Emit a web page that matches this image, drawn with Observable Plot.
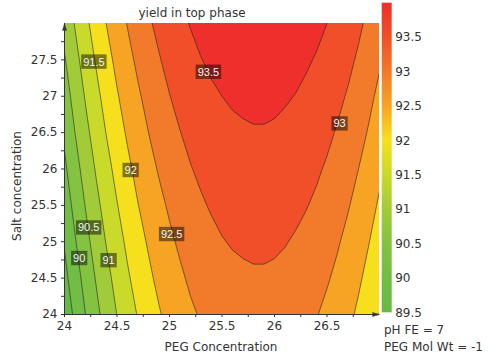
<!DOCTYPE html>
<html>
<head>
<meta charset="utf-8">
<script src="https://cdn.jsdelivr.net/npm/d3@7"></script>
<script src="https://cdn.jsdelivr.net/npm/@observablehq/plot@0.6"></script>
<style>
  html, body { margin: 0; padding: 0; background: #fff; }
  #chart { position: relative; width: 488px; height: 359px; overflow: hidden;
           font-family: "DejaVu Sans", Verdana, sans-serif; color: #333; }
  #chart svg { position: absolute; top: 0; left: 0; }
  .txt { position: absolute; white-space: nowrap; font-size: 12px; line-height: 12px; }
</style>
</head>
<body>
<div id="chart"></div>
<script>
// Sample grid: PEG concentration (columns) and salt concentration (rows)
const pegConcentration = [24.0, 24.1, 24.2, 24.3, 24.4, 24.5, 24.6, 24.7, 24.8, 24.9, 25.0, 25.1, 25.2, 25.3, 25.4, 25.5,
                          25.6, 25.7, 25.8, 25.9, 26.0, 26.1, 26.2, 26.3, 26.4, 26.5, 26.6, 26.7, 26.8, 26.9, 27.0];
const saltConcentration = [24.0, 24.5, 25.0, 25.5, 26.0, 26.5, 27.0, 27.5, 28.0];

// Yield in top phase, one row per salt concentration (bottom row first)
const yieldRows = [
  [89.17, 89.60, 90.00, 90.37, 90.70, 91.01, 91.28, 91.53, 91.76, 91.96, 92.14, 92.30, 92.43, 92.54, 92.64, 92.71, 92.77, 92.80, 92.82, 92.82, 92.80, 92.76, 92.70, 92.62, 92.52, 92.40, 92.27, 92.11, 91.92, 91.72, 91.49],
  [89.36, 89.78, 90.17, 90.53, 90.86, 91.16, 91.44, 91.68, 91.91, 92.11, 92.28, 92.43, 92.57, 92.68, 92.77, 92.84, 92.90, 92.93, 92.95, 92.95, 92.93, 92.89, 92.83, 92.75, 92.66, 92.54, 92.41, 92.25, 92.07, 91.86, 91.64],
  [89.54, 89.96, 90.35, 90.70, 91.03, 91.32, 91.59, 91.84, 92.05, 92.25, 92.42, 92.57, 92.70, 92.81, 92.90, 92.98, 93.03, 93.06, 93.08, 93.08, 93.06, 93.02, 92.96, 92.89, 92.79, 92.68, 92.54, 92.39, 92.21, 92.01, 91.79],
  [89.73, 90.14, 90.52, 90.87, 91.19, 91.48, 91.75, 91.99, 92.20, 92.39, 92.56, 92.71, 92.84, 92.95, 93.04, 93.11, 93.16, 93.19, 93.21, 93.21, 93.19, 93.15, 93.09, 93.02, 92.93, 92.82, 92.68, 92.53, 92.36, 92.16, 91.94],
  [89.91, 90.32, 90.69, 91.04, 91.35, 91.64, 91.90, 92.14, 92.35, 92.54, 92.70, 92.85, 92.98, 93.08, 93.17, 93.24, 93.29, 93.32, 93.34, 93.34, 93.32, 93.28, 93.23, 93.15, 93.06, 92.95, 92.82, 92.67, 92.50, 92.31, 92.09],
  [90.09, 90.50, 90.87, 91.21, 91.52, 91.80, 92.06, 92.29, 92.50, 92.68, 92.85, 92.99, 93.11, 93.22, 93.30, 93.37, 93.42, 93.45, 93.47, 93.47, 93.45, 93.41, 93.36, 93.29, 93.20, 93.09, 92.96, 92.81, 92.65, 92.46, 92.24],
  [90.28, 90.67, 91.04, 91.37, 91.68, 91.96, 92.21, 92.44, 92.64, 92.83, 92.99, 93.13, 93.25, 93.35, 93.44, 93.50, 93.55, 93.58, 93.60, 93.60, 93.58, 93.54, 93.49, 93.42, 93.33, 93.23, 93.10, 92.96, 92.79, 92.60, 92.40],
  [90.46, 90.85, 91.21, 91.54, 91.84, 92.12, 92.37, 92.59, 92.79, 92.97, 93.13, 93.27, 93.39, 93.49, 93.57, 93.63, 93.68, 93.71, 93.73, 93.73, 93.71, 93.67, 93.62, 93.55, 93.47, 93.36, 93.24, 93.10, 92.94, 92.75, 92.55],
  [90.65, 91.03, 91.39, 91.71, 92.01, 92.28, 92.52, 92.74, 92.94, 93.11, 93.27, 93.41, 93.52, 93.62, 93.70, 93.77, 93.81, 93.84, 93.86, 93.86, 93.84, 93.81, 93.75, 93.69, 93.60, 93.50, 93.38, 93.24, 93.08, 92.90, 92.70]
];

// Contour thresholds and the fill of the band that starts at each one
const contourLevels = [89, 89.5, 90, 90.5, 91, 91.5, 92, 92.5, 93, 93.5];
const bandColors = ["#66b947", "#72bd45", "#84c242", "#a2cb3a", "#c9da2b", "#f6e01e", "#f7a425", "#f27a2b", "#f04f2a", "#ee2f2c"];

// Where each labelled contour carries its value
const labelLevels = [90, 90.5, 91, 91.5, 92, 92.5, 93, 93.5];
const labelPeg = [24.14, 24.23, 24.42, 24.28, 24.63, 25.02, 26.62, 25.37];
const labelSalt = [24.77, 25.19, 24.74, 27.47, 25.98, 25.10, 26.62, 27.33];

// Axis ticks
const pegTicks = [24, 24.5, 25, 25.5, 26, 26.5];
const pegMinorTicks = [24.25, 24.75, 25.25, 25.75, 26.25, 26.75];
const saltTicks = [24, 24.5, 25, 25.5, 26, 26.5, 27, 27.5];
const saltMinorTicks = [24.25, 24.75, 25.25, 25.75, 26.25, 26.75, 27.25, 27.75];
const colorbarTicks = [89.5, 90, 90.5, 91, 91.5, 92, 92.5, 93, 93.5];
const colorbarDomain = [89.5, 94];

const font = "DejaVu Sans, Verdana, sans-serif";
const ink = "#333";

const dx = pegConcentration[1] - pegConcentration[0];
const dy = saltConcentration[1] - saltConcentration[0];
const grid = yieldRows.flat();
const labels = labelLevels.map((level, i) => ({level, peg: labelPeg[i], salt: labelSalt[i]}));
const pegAll = [...pegTicks, ...pegMinorTicks].sort((a, b) => a - b);
const saltAll = [...saltTicks, ...saltMinorTicks].sort((a, b) => a - b);

const main = Plot.plot({
  width: 488,
  height: 359,
  marginLeft: 64,
  marginRight: 109,
  marginTop: 23,
  marginBottom: 45,
  x: {domain: [24, 27]},
  y: {domain: [24, 28]},
  color: {type: "linear", domain: contourLevels, range: bandColors},
  style: {fontFamily: font, fontSize: "12px", color: ink, background: "transparent"},
  marks: [
    Plot.contour(grid, {
      width: pegConcentration.length,
      height: saltConcentration.length,
      x1: pegConcentration[0] - dx / 2,
      x2: pegConcentration[pegConcentration.length - 1] + dx / 2,
      y1: saltConcentration[0] - dy / 2,
      y2: saltConcentration[saltConcentration.length - 1] + dy / 2,
      fill: Plot.identity,
      thresholds: contourLevels,
      stroke: "#1c1c1c",
      strokeOpacity: 0.7,
      strokeWidth: 0.8,
      clip: true
    }),
    Plot.text(labels, {
      x: "peg", y: "salt", text: d => String(d.level),
      fill: "#f4f4f4", fontSize: 11, fontFamily: "Liberation Sans, Arial, sans-serif"
    }),
    Plot.ruleX([24], {y1: 24, y2: 28, stroke: ink, strokeWidth: 1}),
    Plot.ruleY([24], {x1: 24, x2: 27, stroke: ink, strokeWidth: 1}),
    Plot.vector([{x: 24, y: 28}], {x: "x", y: "y", rotate: 0, length: 7, r: 2, shape: "spike", anchor: "end", fill: ink, stroke: ink, strokeWidth: 0.5}),
    Plot.vector([{x: 27, y: 24}], {x: "x", y: "y", rotate: 90, length: 7, r: 2, shape: "spike", anchor: "end", fill: ink, stroke: ink, strokeWidth: 0.5}),
    Plot.axisX(pegAll, {
      tickSize: 3, tickPadding: 4, label: null,
      tickFormat: d => pegTicks.includes(d) ? String(d) : ""
    }),
    Plot.axisY(saltAll, {
      tickSize: 3, tickPadding: 4, label: null,
      tickFormat: d => saltTicks.includes(d) ? String(d) : ""
    })
  ]
});

// Colour bar: a vertical ramp, each band colour sits at the band's upper bound
const bar = Plot.plot({
  width: 100,
  height: 359,
  marginLeft: 3.7,
  marginRight: 86.3,
  marginTop: 2.7,
  marginBottom: 46.7,
  x: {domain: [0, 1], axis: null},
  y: {domain: colorbarDomain},
  style: {fontFamily: font, fontSize: "12px", color: ink, background: "transparent"},
  marks: [
    (index, scales) => {
      const ns = "http://www.w3.org/2000/svg";
      const defs = document.createElementNS(ns, "defs");
      const grad = document.createElementNS(ns, "linearGradient");
      grad.setAttribute("id", "yield-ramp");
      grad.setAttribute("gradientUnits", "userSpaceOnUse");
      grad.setAttribute("x1", 0);
      grad.setAttribute("x2", 0);
      grad.setAttribute("y1", scales.y(colorbarDomain[1]));
      grad.setAttribute("y2", scales.y(colorbarDomain[0]));
      const span = colorbarDomain[1] - colorbarDomain[0];
      contourLevels.map((t, i) => ({v: t + 0.5, c: bandColors[i]}))
        .sort((a, b) => b.v - a.v)
        .forEach(({v, c}) => {
          const stop = document.createElementNS(ns, "stop");
          stop.setAttribute("offset", (colorbarDomain[1] - v) / span);
          stop.setAttribute("stop-color", c);
          grad.appendChild(stop);
        });
      defs.appendChild(grad);
      return defs;
    },
    Plot.rect([colorbarDomain], {x1: 0, x2: 1, y1: d => d[0], y2: d => d[1], fill: "url(#yield-ramp)"}),
    Plot.axisY(colorbarTicks, {anchor: "right", tickSize: 0, tickPadding: 3, label: null, tickFormat: d => String(d)})
  ]
});
bar.style.left = "378px";

const chart = document.getElementById("chart");
chart.append(main, bar);

// Dark translucent boxes behind the contour values
const ns = "http://www.w3.org/2000/svg";
main.querySelectorAll('g[aria-label="text"] text').forEach(t => {
  const b = t.getBBox();
  const r = document.createElementNS(ns, "rect");
  r.setAttribute("x", b.x - 2);
  r.setAttribute("y", b.y - 1.2);
  r.setAttribute("width", b.width + 4);
  r.setAttribute("height", b.height + 2.4);
  r.setAttribute("fill", "#000");
  r.setAttribute("fill-opacity", 0.48);
  if (t.getAttribute("transform")) r.setAttribute("transform", t.getAttribute("transform"));
  t.parentNode.insertBefore(r, t);
});

function addText(str, style) {
  const d = document.createElement("div");
  d.className = "txt";
  d.textContent = str;
  Object.assign(d.style, style);
  chart.appendChild(d);
  return d;
}
addText("yield in top phase", {left: "192px", top: "7px", transform: "translateX(-50%)"});
addText("PEG Concentration", {left: "221px", top: "341px", transform: "translateX(-50%)"});
addText("Salt concentration", {left: "17px", top: "186px", transform: "translate(-50%, -50%) rotate(-90deg)"});
addText("pH FE = 7", {left: "384px", top: "324px"});
addText("PEG Mol Wt = -1", {left: "384px", top: "341px"});
</script>
</body>
</html>
